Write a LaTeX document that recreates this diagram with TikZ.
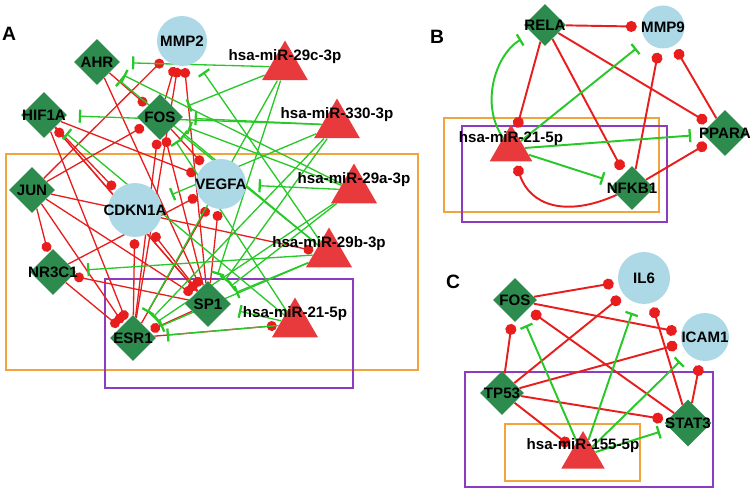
\documentclass[tikz,border=0pt]{standalone}
\usepackage{fontspec}
\setmainfont{Liberation Sans}
\usetikzlibrary{shapes.geometric}
\usetikzlibrary{arrows.meta}
\definecolor{genegreen}{RGB}{46,139,78}
\definecolor{targetblue}{RGB}{173,216,230}
\definecolor{mirred}{RGB}{232,58,60}
\definecolor{edgered}{RGB}{232,30,30}
\definecolor{edgegreen}{RGB}{40,200,40}
\definecolor{boxorange}{RGB}{240,164,60}
\definecolor{boxpurple}{RGB}{140,60,190}
\pgfdeclarelayer{boxes}
\pgfdeclarelayer{edges}
\pgfsetlayers{boxes,edges,main}
\tikzset{
% node looks
nodetext/.style={font=\bfseries\fontsize{8.6}{10}\selectfont, inner sep=0},
gene/.style={diamond, fill=genegreen, minimum size=0.92cm, inner sep=0,
  label={[nodetext]center:#1}},
target/.style={circle, fill=targetblue, minimum size=1cm, inner sep=0,
  label={[nodetext]center:#1}},
mirna/.style={regular polygon, regular polygon sides=3, fill=mirred,
  minimum size=1.06cm, inner sep=0,
  label={[nodetext, yshift=6pt]center:#1}},
paneltag/.style={font=\bfseries\fontsize{11}{13}\selectfont, inner sep=0},
% edge looks
act/.style={draw=edgered, line width=0.75pt, -{Circle[length=2mm]}, shorten >=1pt},
inh/.style={draw=edgegreen, line width=0.75pt, -{Bar[width=2.6mm, line width=1.3pt]}, shorten >=7pt},
orangebox/.style={draw=boxorange, line width=1.6pt},
purplebox/.style={draw=boxpurple, line width=1.6pt}
}

\begin{document}
\begin{tikzpicture}[x=0.02cm, y=-0.02cm]
  \useasboundingbox (0,0) rectangle (750,490);

  % A
  \node[paneltag] (tagA) at (9,34) {A};
  \node[target=MMP2] (mmp2) at (182,41) {};
  \node[target=CDKN1A, minimum size=1.08cm] (cdkn) at (135,210) {};
  \node[target=VEGFA] (vegfa) at (221,184) {};
  \node[gene=AHR] (ahr) at (97,62) {};
  \node[gene=HIF1A] (hif) at (44,115) {};
  \node[gene=FOS] (fos) at (160,117) {};
  \node[gene=JUN] (jun) at (32,190) {};
  \node[gene=NR3C1] (nr3c) at (53,272) {};
  \node[gene=ESR1] (esr) at (133,338) {};
  \node[gene=SP1] (sp) at (208,304) {};
  \node[mirna=hsa-miR-29c-3p] (m29c) at (285,67) {};
  \node[mirna=hsa-miR-330-3p] (m330) at (337,125) {};
  \node[mirna=hsa-miR-29a-3p] (m29a) at (354,190) {};
  \node[mirna=hsa-miR-29b-3p] (m29b) at (329,254) {};
  \node[mirna=hsa-miR-21-5p] (m21) at (295,324) {};

  % B
  \node[paneltag] (tagB) at (437,37) {B};
  \begin{scope}[every label/.append style={font=\bfseries\fontsize{7.8}{9}\selectfont}]
    \node[gene=RELA, minimum size=0.84cm] (rela) at (545,25) {};
    \node[target=MMP9, minimum size=0.86cm] (mmp9) at (663,27) {};
    \node[gene=PPARA] (ppara) at (725,133) {};
    \node[gene=NFKB1, minimum size=0.88cm] (nfkb) at (632,188) {};
    \node[mirna=hsa-miR-21-5p, minimum size=0.98cm] (mirB) at (511,149) {};
  \end{scope}

  % C
  \node[paneltag] (tagC) at (453,282) {C};
  \begin{scope}[every label/.append style={font=\bfseries\fontsize{7.8}{9}\selectfont}]
    \node[target=IL6, minimum size=1.04cm] (il6) at (644,278) {};
    \node[target=ICAM1, minimum size=0.96cm] (icam) at (705,337) {};
    \node[gene=FOS, minimum size=0.88cm] (fosC) at (515,300) {};
    \node[gene=TP53, minimum size=0.88cm] (tp53) at (502,393) {};
    \node[gene=STAT3, minimum size=0.94cm] (stat3) at (688,423) {};
    \node[mirna=hsa-miR-155-5p, minimum size=1cm] (mirC) at (583,456) {};
  \end{scope}

  \begin{pgfonlayer}{boxes}
    \draw[orangebox] (6,154) rectangle (418,370);
    \draw[purplebox] (105,279) rectangle (353,388);
    \draw[orangebox] (444,118) rectangle (659,212);
    \draw[purplebox] (462,126) rectangle (667,222);
    \draw[purplebox] (465,372) rectangle (713,487);
    \draw[orangebox] (505,424) rectangle (640,481);
  \end{pgfonlayer}

  \begin{pgfonlayer}{edges}
    % A, transcription factors
    \foreach \src/\dst in {jun/mmp2, fos/mmp2, esr/mmp2, sp/mmp2, ahr/fos, ahr/sp,
      hif/cdkn, sp/hif, jun/fos, hif/vegfa, fos/vegfa, nr3c/vegfa, esr/vegfa,
      sp/vegfa, esr/cdkn, sp/cdkn, jun/nr3c, sp/nr3c, nr3c/esr, hif/esr,
      jun/esr, sp/esr, esr/m21, jun/m29b, esr/fos, sp/fos, hif/sp, jun/sp}
      \draw[act] (\src) -- (\dst);
    % A, miRNAs
    \foreach \src/\dst in {m29c/ahr, m29c/fos, m29c/sp, m29c/esr, m330/hif,
      m330/fos, m330/cdkn, m330/sp, m330/esr, m29a/ahr, m29a/fos, m29a/vegfa,
      m29a/sp, m29a/esr, m29b/mmp2, m29b/ahr, m29b/nr3c, m29b/sp, m29b/esr,
      m29b/fos, m21/hif, m21/sp, m21/esr, m21/fos}
      \draw[inh] (\src) -- (\dst);

    % B
    \begin{scope}[act/.append style={line width=1.1pt, -{Circle[length=2.2mm]}, shorten >=2.5pt},
      inh/.append style={line width=1.1pt}]
      \draw[act] (rela) -- (mmp9);
      \draw[act] (rela) -- (mirB);
      \draw[act] (rela) -- (nfkb);
      \draw[act] (rela) -- (ppara);
      \draw[act] (nfkb) -- (mmp9);
      \draw[act] (ppara) -- (mmp9);
      \draw[act] (nfkb) -- (ppara);
      \draw[act] (nfkb) .. controls (565,218) and (530,205) .. (mirB);
      \draw[inh] (mirB) .. controls (480,105) and (495,55) .. (rela);
      \draw[inh] (mirB) -- (mmp9);
      \draw[inh] (mirB) -- (ppara);
      \draw[inh] (mirB) -- (nfkb);
    \end{scope}

    % C
    \begin{scope}[act/.append style={line width=1.1pt, -{Circle[length=2.2mm]}, shorten >=2.5pt},
      inh/.append style={line width=1.1pt, shorten >=6pt}]
      \foreach \src/\dst in {fosC/il6, fosC/icam, stat3/fosC, tp53/fosC, tp53/il6,
        stat3/il6, tp53/icam, stat3/icam, tp53/stat3, tp53/mirC}
        \draw[act] (\src) -- (\dst);
      \foreach \dst in {fosC, il6, icam, stat3}
        \draw[inh] (mirC) -- (\dst);
    \end{scope}
  \end{pgfonlayer}
\end{tikzpicture}
\end{document}
